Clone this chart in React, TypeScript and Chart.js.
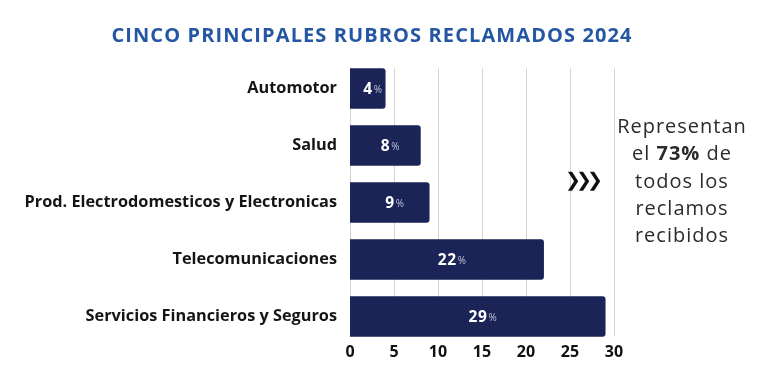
import React, { useEffect, useRef } from "react";
import { Chart, registerables } from "chart.js";

Chart.register(...registerables);

const TITLE = "CINCO PRINCIPALES RUBROS RECLAMADOS 2024";
const categories = [
  "Automotor",
  "Salud",
  "Prod. Electrodomesticos y Electronicas",
  "Telecomunicaciones",
  "Servicios Financieros y Seguros",
];
const values = [4, 8, 9, 22, 29];
const valueSuffix = "%";
const xTicksMin = 0;
const xTicksMax = 30;
const xTicksStep = 5;
const noteLines: { pre: string; bold: string; post: string }[] = [
  { pre: "Representan", bold: "", post: "" },
  { pre: "el ", bold: "73%", post: " de" },
  { pre: "todos los", bold: "", post: "" },
  { pre: "reclamos", bold: "", post: "" },
  { pre: "recibidos", bold: "", post: "" },
];
const chevron = "❯";
const chevronCount = 3;

const FONT = '"Open Sans", "Noto Sans", sans-serif';
const BAR_COLOR = "#1b2456";
const TITLE_COLOR = "#2456a3";

export default function App() {
  const ref = useRef<HTMLCanvasElement | null>(null);

  useEffect(() => {
    if (!ref.current) return;

    const gridPlugin = {
      id: "customGrid",
      beforeDatasetsDraw(chart: any) {
        const meta = chart.getDatasetMeta(0);
        const first = meta.data[0];
        const last = meta.data[meta.data.length - 1];
        const top = first.y - first.height / 2;
        const bottom = last.y + last.height / 2;
        const xs = chart.scales.x;
        const ctx = chart.ctx;
        ctx.save();
        ctx.strokeStyle = "#d4d4d4";
        ctx.lineWidth = 1;
        xs.ticks.forEach((t: any) => {
          const px = Math.round(xs.getPixelForValue(t.value)) + 0.5;
          ctx.beginPath();
          ctx.moveTo(px, top);
          ctx.lineTo(px, bottom);
          ctx.stroke();
        });
        ctx.restore();
      },
    };

    const labelPlugin = {
      id: "labelsAndNotes",
      afterDatasetsDraw(chart: any) {
        const ctx = chart.ctx;
        const meta = chart.getDatasetMeta(0);
        ctx.save();
        // bar labels
        meta.data.forEach((bar: any, i: number) => {
          const cx = (bar.x + bar.base) / 2 + 5;
          const numText = String(values[i]);
          ctx.letterSpacing = "0.6px";
          ctx.font = `700 15.5px ${FONT}`;
          const nw = ctx.measureText(numText).width;
          ctx.letterSpacing = "0px";
          ctx.font = `400 10px ${FONT}`;
          const pw = ctx.measureText(valueSuffix).width;
          const gap = 1;
          const total = nw + gap + pw;
          const sx = cx - total / 2;
          ctx.textBaseline = "alphabetic";
          ctx.textAlign = "left";
          ctx.fillStyle = "#ffffff";
          ctx.letterSpacing = "0.6px";
          ctx.font = `700 15.5px ${FONT}`;
          ctx.fillText(numText, sx, bar.y + 5.5);
          ctx.letterSpacing = "0px";
          ctx.fillStyle = "#bfc3da";
          ctx.font = `400 10px ${FONT}`;
          ctx.fillText(valueSuffix, sx + nw + gap, bar.y + 4.5);
        });

        // title
        ctx.fillStyle = TITLE_COLOR;
        ctx.letterSpacing = "1.1px";
        ctx.font = `700 20px ${FONT}`;
        ctx.textAlign = "left";
        ctx.textBaseline = "alphabetic";
        const tw = ctx.measureText(TITLE).width;
        ctx.fillText(TITLE, 372 - tw / 2, 41.5);
        ctx.letterSpacing = "0px";

        // chevrons
        ctx.fillStyle = "#111111";
        ctx.font = `700 19px "DejaVu Sans", sans-serif`;
        ctx.textAlign = "center";
        ctx.textBaseline = "middle";
        for (let k = 0; k < chevronCount; k++) {
          ctx.fillText(chevron, 573 + k * 11, 181);
        }

        // note
        const cx = 682;
        const y0 = 127.5;
        const lh = 27.2;
        ctx.letterSpacing = "1px";
        noteLines.forEach((ln, i) => {
          const y = y0 + i * lh;
          ctx.textAlign = "left";
          ctx.textBaseline = "middle";
          ctx.fillStyle = "#2b2b2b";
          const reg = `400 20px ${FONT}`;
          const bld = `700 20px ${FONT}`;
          ctx.font = reg;
          const w1 = ctx.measureText(ln.pre).width;
          const w3 = ctx.measureText(ln.post).width;
          ctx.font = bld;
          const w2 = ctx.measureText(ln.bold).width;
          let x = cx - (w1 + w2 + w3) / 2;
          ctx.font = reg;
          ctx.fillText(ln.pre, x, y);
          x += w1;
          ctx.font = bld;
          ctx.fillText(ln.bold, x, y);
          x += w2;
          ctx.font = reg;
          ctx.fillText(ln.post, x, y);
        });
        ctx.letterSpacing = "0px";
        ctx.restore();
      },
    };

    const chart = new Chart(ref.current, {
      type: "bar",
      data: {
        labels: categories,
        datasets: [
          {
            data: values,
            backgroundColor: BAR_COLOR,
            borderRadius: 3,
            barThickness: 40,
          },
        ],
      },
      options: {
        indexAxis: "y",
        animation: false,
        responsive: false,
        devicePixelRatio: 1,
        layout: { padding: { left: 0, right: 156, top: 60, bottom: 0 } },
        plugins: {
          legend: { display: false },
          tooltip: { enabled: false },
          title: { display: false },
        },
        scales: {
          x: {
            min: xTicksMin,
            max: xTicksMax,
            grid: { display: false, drawTicks: false },
            border: { display: false },
            ticks: {
              stepSize: xTicksStep,
              padding: -2,
              color: "#111111",
              font: { family: FONT, size: 16, weight: "bold" },
            },
            afterFit: (s: any) => {
              s.height = 28;
            },
          },
          y: {
            grid: { display: false, drawTicks: false },
            border: { display: false },
            ticks: {
              padding: 13,
              color: "#151515",
              font: { family: FONT, size: 16.3, weight: "bold" },
            },
            afterFit: (s: any) => {
              s.width = 350;
            },
          },
        },
      },
      plugins: [gridPlugin, labelPlugin],
    } as any);

    return () => chart.destroy();
  }, []);

  return (
    <div
      style={{
        position: "fixed",
        left: 0,
        top: 0,
        width: 770,
        height: 373,
        background: "#ffffff",
      }}
    >
      <canvas ref={ref} width={770} height={373} style={{ width: 770, height: 373 }} />
    </div>
  );
}
